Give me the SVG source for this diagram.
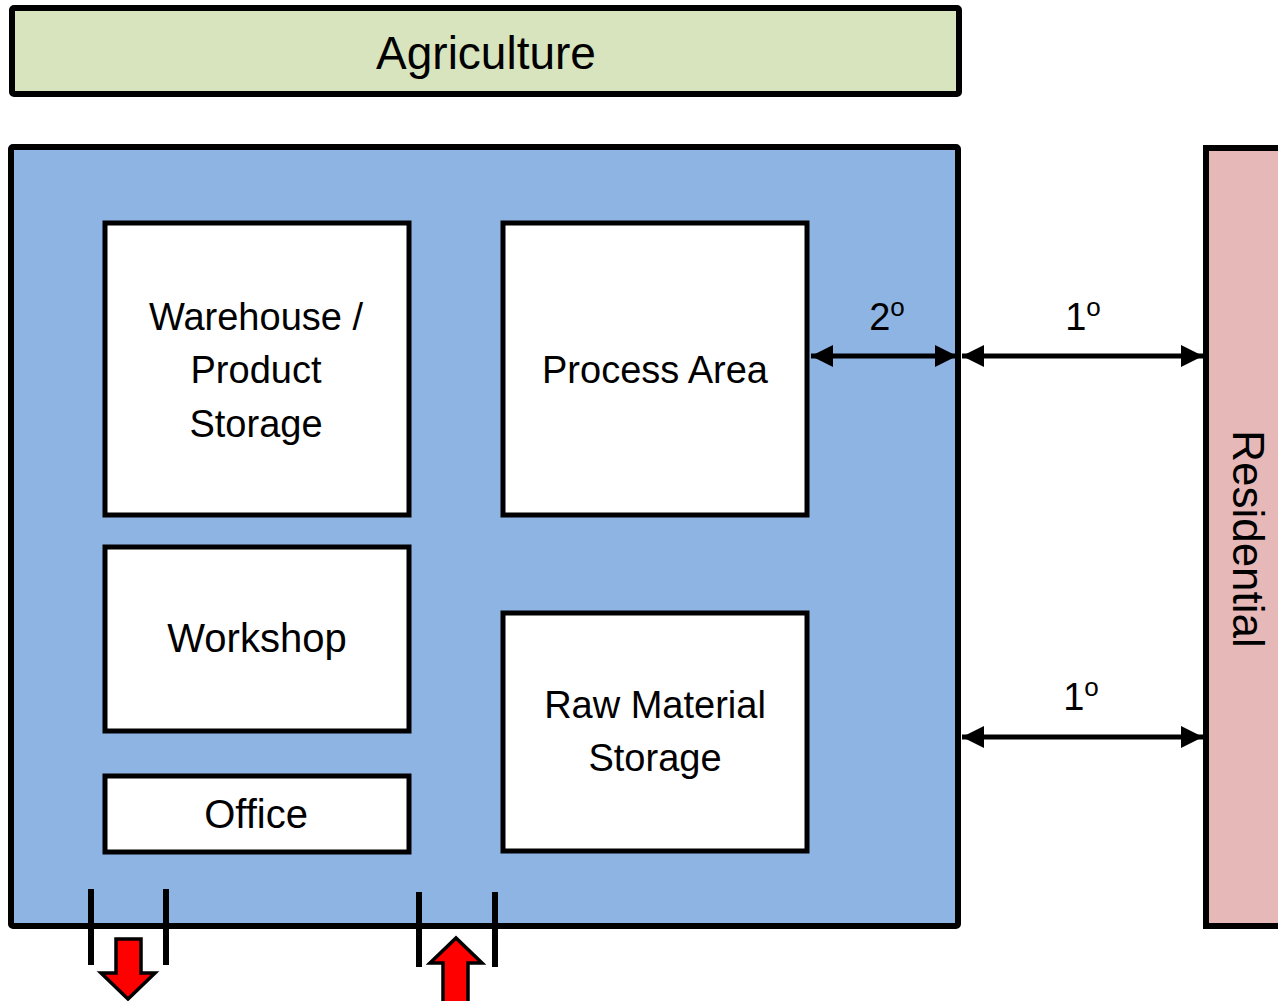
<svg xmlns="http://www.w3.org/2000/svg" width="1278" height="1001" viewBox="0 0 1278 1001">
<defs>
<style>
.lbl{font-family:"Liberation Sans",Arial,sans-serif;font-size:38px;fill:#000;text-anchor:middle}
.big{font-size:46px}
.res{font-size:44px}
.mid{font-size:40px}
.sup{font-size:26px}
.box{fill:#fff;stroke:#000;stroke-width:5}
.conn{stroke:#000;stroke-width:5;fill:none}
.tick{stroke:#000;stroke-width:6}
.red{fill:#ff0000;stroke:#000;stroke-width:3.5;stroke-linejoin:miter}
</style>
<marker id="ah" viewBox="0 0 10 10" refX="10" refY="5" markerWidth="5" markerHeight="4.4" orient="auto-start-reverse" markerUnits="strokeWidth">
<path d="M0,0 L10,5 L0,10 Z" fill="#000"/>
</marker>
</defs>
<rect width="1278" height="1001" fill="#fff"/>
<g id="agriculture">
<rect x="12" y="8" width="947" height="86" rx="2" fill="#d7e4bd" stroke="#000" stroke-width="6"/>
<text class="lbl big" x="486" y="69">Agriculture</text>
</g>
<g id="site">
<rect x="11" y="147" width="947" height="779" rx="2" fill="#8eb4e3" stroke="#000" stroke-width="6"/>
</g>
<g id="residential">
<rect x="1206" y="148" width="80" height="778" fill="#e6b9b8" stroke="#000" stroke-width="6"/>
<text class="lbl res" transform="translate(1233,539) rotate(90)" x="0" y="0">Residential</text>
</g>
<g id="warehouse">
<rect class="box" x="105" y="223" width="304" height="292"/>
<text class="lbl" x="256" y="330">Warehouse /</text>
<text class="lbl" x="256" y="383">Product</text>
<text class="lbl" x="256" y="437">Storage</text>
</g>
<g id="process">
<rect class="box" x="503" y="223" width="304" height="292"/>
<text class="lbl" x="655" y="383">Process Area</text>
</g>
<g id="workshop">
<rect class="box" x="105" y="547" width="304" height="184"/>
<text class="lbl mid" x="257" y="652">Workshop</text>
</g>
<g id="office">
<rect class="box" x="105" y="776" width="304" height="76"/>
<text class="lbl mid" x="256" y="828">Office</text>
</g>
<g id="rawmaterial">
<rect class="box" x="503" y="613" width="304" height="238"/>
<text class="lbl" x="655" y="718">Raw Material</text>
<text class="lbl" x="655" y="771">Storage</text>
</g>
<g id="connectors">
<line class="conn" x1="811" y1="356" x2="957" y2="356" marker-start="url(#ah)" marker-end="url(#ah)"/>
<line class="conn" x1="962" y1="356" x2="1203" y2="356" marker-start="url(#ah)" marker-end="url(#ah)"/>
<line class="conn" x1="962" y1="737" x2="1203" y2="737" marker-start="url(#ah)" marker-end="url(#ah)"/>
<text class="lbl" x="887" y="330">2<tspan class="sup" dy="-14">o</tspan></text>
<text class="lbl" x="1083" y="330">1<tspan class="sup" dy="-14">o</tspan></text>
<text class="lbl" x="1081" y="710">1<tspan class="sup" dy="-14">o</tspan></text>
<line class="tick" x1="91" y1="889" x2="91" y2="965"/>
<line class="tick" x1="166" y1="889" x2="166" y2="965"/>
<line class="tick" x1="419" y1="892" x2="419" y2="967"/>
<line class="tick" x1="495" y1="892" x2="495" y2="967"/>
<path class="red" d="M116,939 L141,939 L141,973 L155,973 L128,999 L101,973 L116,973 Z"/>
<path class="red" d="M443,1004 L443,963 L430,963 L456,938 L482,963 L468,963 L468,1004 Z"/>
</g>
</svg>
